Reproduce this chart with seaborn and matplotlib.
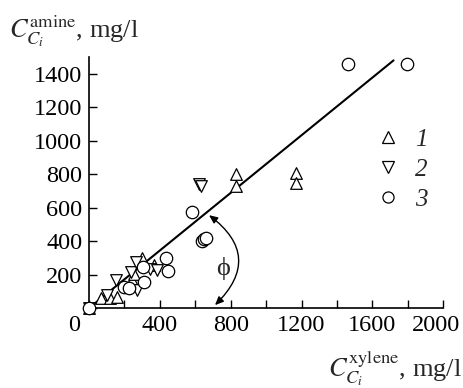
import matplotlib
matplotlib.use("Agg")
import matplotlib.pyplot as plt
import matplotlib.transforms as mtransforms
from matplotlib.lines import Line2D
from matplotlib.patches import FancyArrowPatch
import seaborn as sns

# Series 1 (up triangles)
x1 = [0, 70, 120, 155, 240, 255, 300, 365, 830, 830, 1170, 1170]
y1 = [0, 62, 58, 67, 167, 206, 300, 256, 800, 730, 810, 745]
# Series 2 (down triangles)
x2 = [0, 100, 150, 235, 265, 270, 345, 385, 620, 630]
y2 = [0, 77, 167, 216, 276, 107, 236, 226, 742, 730]
# Series 3 (circles)
x3 = [0, 195, 228, 307, 310, 435, 448, 580, 640, 650, 660, 1460, 1795]
y3 = [0, 127, 117, 246, 153, 302, 222, 573, 400, 412, 420, 1460, 1460]
# Linear fit
fit_x = [0, 1720]
fit_y = [0, 1480]

x_ticks = [0, 200, 400, 600, 800, 1000, 1200, 1400, 1600, 1800, 2000]
x_labels = ["0", "", "400", "", "800", "", "1200", "", "1600", "", "2000"]
y_ticks = [0, 200, 400, 600, 800, 1000, 1200, 1400]
y_labels = ["", "200", "400", "600", "800", "1000", "1200", "1400"]

sns.set_theme(style="ticks")
plt.rcParams["font.family"] = ["Liberation Serif", "DejaVu Serif"]
plt.rcParams["mathtext.fontset"] = "stix"

fig = plt.figure(figsize=(4.64, 3.88), dpi=100)
ax = fig.add_axes([0.192, 0.206, 0.763, 0.647])

mk = dict(facecolor="white", edgecolor="black", linewidth=0.9, clip_on=False, zorder=3, legend=False)
sns.scatterplot(x=x1, y=y1, marker="^", s=70, ax=ax, **mk)
sns.scatterplot(x=x2, y=y2, marker="v", s=70, ax=ax, **mk)
sns.scatterplot(x=x3, y=y3, marker="o", s=80, ax=ax, **mk)
sns.lineplot(x=fit_x, y=fit_y, color="black", linewidth=1.5, ax=ax, zorder=2)

ax.set_xlim(0, 2000)
ax.set_ylim(0, 1500)
ax.set_xticks(x_ticks)
ax.set_xticklabels(x_labels)
ax.set_yticks(y_ticks)
ax.set_yticklabels(y_labels)
ax.tick_params(axis="both", direction="in", length=6, width=1, labelsize=17.5,
               colors="black")
ax.tick_params(axis="y", pad=5)
ax.tick_params(axis="x", pad=5)
for side in ("top", "right"):
    ax.spines[side].set_visible(False)
for side in ("left", "bottom"):
    ax.spines[side].set_linewidth(1.2)
    ax.spines[side].set_color("black")
ax.set_xlabel("")
ax.set_ylabel("")

# nudge the end labels: shared origin label left of the corner, last label inward
xl = ax.get_xticklabels()
xl[0].set_transform(xl[0].get_transform()
                    + mtransforms.ScaledTranslation(-0.15, 0, fig.dpi_scale_trans))
xl[-1].set_transform(xl[-1].get_transform()
                     + mtransforms.ScaledTranslation(-0.07, 0, fig.dpi_scale_trans))

# angle arrow between the fit line and the x axis
arc = FancyArrowPatch((700, 6), (665, 565), connectionstyle="arc3,rad=0.6",
                      arrowstyle="<|-|>,head_length=5,head_width=2.2",
                      color="black", linewidth=1.0, zorder=4)
ax.add_patch(arc)
ax.text(755, 236, "\u03d5", fontsize=19, ha="center", va="center")

# legend
handles = [
    Line2D([], [], marker="^", linestyle="none", markersize=8, markerfacecolor="white",
           markeredgecolor="black", markeredgewidth=0.9),
    Line2D([], [], marker="v", linestyle="none", markersize=8, markerfacecolor="white",
           markeredgecolor="black", markeredgewidth=0.9),
    Line2D([], [], marker="o", linestyle="none", markersize=8, markerfacecolor="white",
           markeredgecolor="black", markeredgewidth=0.9),
]
leg = ax.legend(handles, ["1", "2", "3"], loc="upper left", bbox_to_anchor=(0.775, 0.765),
                frameon=False, fontsize=18, handlelength=1.0, handletextpad=0.55,
                labelspacing=0.3, borderpad=0)
for t in leg.get_texts():
    t.set_fontstyle("italic")

fig.text(0.02, 0.905, r"$C_{C_i}^{\mathrm{amine}}$, mg/l", fontsize=19, ha="left", va="baseline")
fig.text(0.995, 0.03, r"$C_{C_i}^{\mathrm{xylene}}$, mg/l", fontsize=19, ha="right", va="baseline")

fig.savefig("out.png", dpi=100)
